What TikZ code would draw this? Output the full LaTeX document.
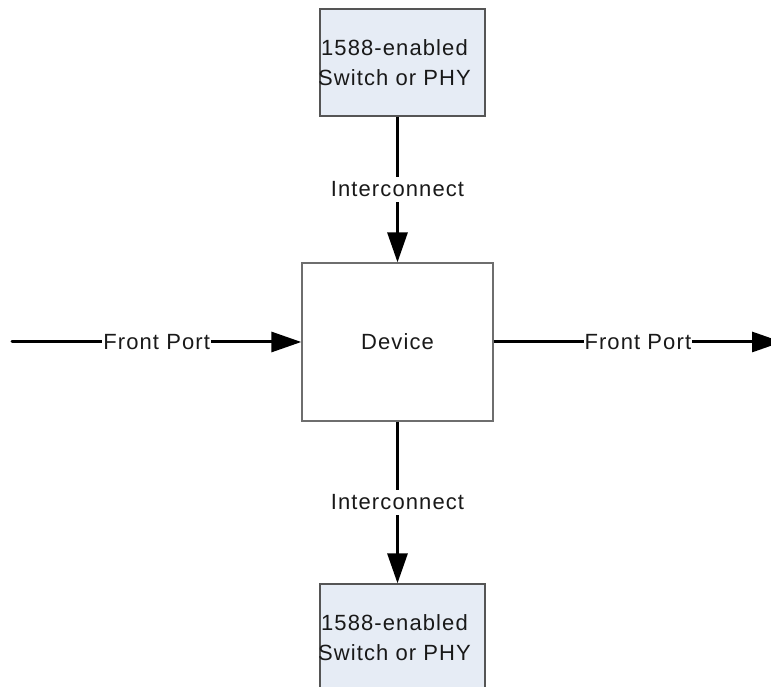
\documentclass[tikz,border=0pt]{standalone}
\usepackage{fontspec}
\setmainfont[LetterSpace=5]{Liberation Sans}
\usetikzlibrary{arrows.meta}
\definecolor{boxfill}{RGB}{230,236,245}
\definecolor{boxedge}{RGB}{85,85,85}
\definecolor{devedge}{RGB}{110,110,110}
\definecolor{txt}{RGB}{25,25,25}
\begin{document}
\begin{tikzpicture}[x=1pt,y=1pt,
  every node/.style={font=\fontsize{22}{30}\selectfont, text=txt},
  swbox/.style={draw=boxedge, line width=1.3pt, fill=boxfill, minimum width=165pt, minimum height=107pt, align=center, inner sep=0pt},
  devbox/.style={draw=devedge, line width=1.3pt, fill=white, minimum width=191pt, minimum height=158pt, inner sep=0pt},
  arr/.style={line width=3pt, -{Triangle[length=30pt,width=20pt]}},
  lbl/.style={fill=white, inner xsep=1pt, inner ysep=5pt}]
\useasboundingbox (0,0) rectangle (771,687);
\node[swbox] (top) at (402.5,624.5) {\hspace*{-16pt}1588-enabled\\\hspace*{-16pt}Switch or PHY};
\node[devbox] (dev) at (397.5,345) {Device};
\node[swbox] (bot) at (402.5,49.5) {\hspace*{-16pt}1588-enabled\\\hspace*{-16pt}Switch or PHY};
\coordinate (lin) at (12,345);
\coordinate (rout) at (782,345);
\draw[arr, line cap=round] (lin) -- node[lbl] {Front Port} (dev.west);
\draw[arr] (dev.east) -- node[lbl] {Front Port} (rout);
\draw[arr] (dev.north |- top.south) -- node[lbl] {Interconnect} (dev.north);
\draw[arr] (dev.south) -- node[lbl] {Interconnect} (dev.south |- bot.north);
\end{tikzpicture}
\end{document}
